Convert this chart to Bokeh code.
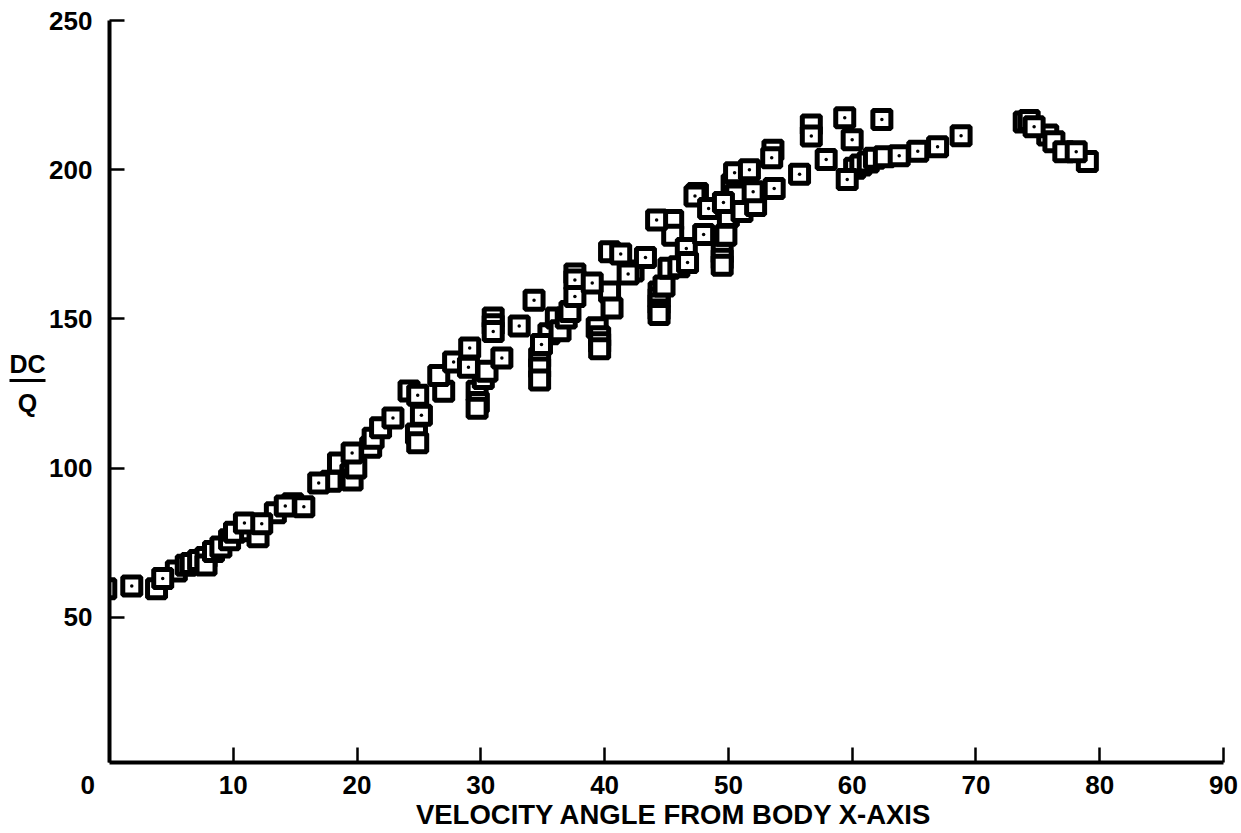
from bokeh.plotting import figure
from bokeh.layouts import row
from bokeh.models import Range1d, FixedTicker
from bokeh.core.properties import value
from bokeh.embed import file_html
from bokeh.resources import INLINE

# ---- data ----
# squares that lie underneath others (drawn first, no centre dot visible)
back_angle = [-0.3, 3.8, 5.4, 6.2, 6.6, 7.2, 7.8, 7.8, 8.4, 9.0, 9.7, 10.1, 11.4, 12.0,
              13.4, 14.8, 17.9, 18.5, 19.5, 19.6, 19.9, 21.1, 21.3, 21.9, 24.2, 24.8,
              24.9, 27.0, 26.6, 29.7, 29.8, 29.7, 30.2, 30.5, 31.0, 31.0, 34.75, 34.75,
              34.75, 35.5, 36.1, 36.4, 36.9, 37.2, 37.6, 39.4, 39.6, 39.6, 39.6, 40.4,
              40.6, 40.4, 42.3, 44.4, 44.4, 44.4, 44.4, 44.4, 44.8, 45.2, 46.0, 45.5,
              45.5, 47.5, 49.5, 49.5, 49.5, 49.8, 50.0, 50.3, 50.6, 51.1, 52.2, 53.6,
              56.7, 60.2, 60.7, 61.3, 61.8, 62.6, 73.9, 74.3, 75.8, 76.3, 77.1, 79.0]
back_dcq = [59.5, 59.5, 65.5, 67.4, 68.0, 69.0, 70.0, 67.5, 72.0, 73.5, 76.0, 78.5, 79.0, 77.0,
            85.0, 88.0, 95.6, 101.7, 98.0, 96.0, 100.0, 107.0, 110.0, 113.5, 125.8, 111.4,
            108.5, 125.7, 131.0, 125.7, 122.0, 120.0, 130.0, 132.4, 150.3, 148.0, 137.0, 133.5,
            129.5, 145.0, 150.3, 146.0, 150.3, 152.5, 165.0, 147.0, 144.0, 142.0, 140.0, 159.0,
            153.6, 172.5, 166.0, 159.0, 157.0, 155.0, 153.0, 151.5, 161.0, 167.0, 167.5, 183.0,
            178.0, 192.0, 172.0, 170.0, 168.0, 178.0, 184.3, 195.0, 191.5, 186.0, 188.0, 206.5,
            215.0, 200.5, 201.6, 202.6, 203.8, 204.3, 216.0, 216.5, 211.6, 209.4, 206.0, 202.7]

# squares on top (with visible centre dot)
front_angle = [1.8, 4.3, 10.9, 12.3, 14.2, 15.7, 16.9, 19.6, 22.9, 24.9, 25.2, 27.8, 29.0,
               29.1, 31.0, 31.7, 33.1, 34.3, 34.9, 37.6, 37.6, 39.0, 41.3, 41.9, 43.3, 44.2,
               46.6, 46.7, 48.0, 47.3, 48.4, 49.6, 52.0, 50.5, 51.7, 53.7, 53.5, 55.75, 56.7,
               59.4, 62.4, 60.0, 57.9, 59.6, 63.8, 65.3, 66.9, 68.8, 74.7, 78.1]
front_dcq = [60.5, 63.0, 81.6, 81.3, 87.3, 87.0, 95.0, 105.0, 116.8, 124.4, 117.7, 135.5, 133.8,
             140.2, 145.8, 136.9, 147.6, 156.2, 141.4, 163.0, 157.5, 162.0, 171.7, 165.0, 170.6, 183.1,
             173.6, 168.9, 178.3, 191.2, 187.0, 189.0, 192.6, 199.0, 200.0, 193.7, 204.0, 198.5, 211.3,
             217.4, 216.8, 210.0, 203.4, 196.7, 204.7, 206.2, 207.7, 211.4, 214.4, 206.0]

x_ticks = [0, 10, 20, 30, 40, 50, 60, 70, 80, 90]
y_ticks = [50, 100, 150, 200, 250]
x_title = "VELOCITY ANGLE FROM BODY X-AXIS"
y_numerator = "DC"
y_denominator = "Q"

FONT = "Liberation Sans"
NB = "\u00a0"
TOP, BOTTOM = 20, 762   # frame edges in page pixels (the row aligns both frames)

# ---- narrow strip holding the y-axis title written as a fraction ----
LW = 46
lab = figure(width=LW, height=833, output_backend="svg", toolbar_location=None,
             x_range=Range1d(0, LW), y_range=Range1d(BOTTOM, TOP),
             x_axis_type=None, y_axis_type=None,
             min_border_left=0, min_border_right=0, min_border_top=TOP,
             min_border_bottom=833 - BOTTOM)
lab.outline_line_color = None
lab.xgrid.visible = False
lab.ygrid.visible = False
lab.text(x=[27], y=[363], text=[y_numerator], text_font=value(FONT), text_font_style="bold",
         text_font_size="25px", text_align="center", text_baseline="middle", text_color="black")
lab.segment(x0=[9], y0=[380], x1=[45], y1=[380], line_width=3, line_color="black")
lab.text(x=[27], y=[402], text=[y_denominator], text_font=value(FONT), text_font_style="bold",
         text_font_size="25px", text_align="center", text_baseline="middle", text_color="black")

# ---- main chart ----
p = figure(width=1241 - LW, height=833, output_backend="svg", toolbar_location=None,
           x_range=Range1d(0, 90), y_range=Range1d(1.3, 250),
           min_border_left=107 - LW, min_border_right=18, min_border_top=TOP,
           min_border_bottom=833 - BOTTOM)
p.outline_line_color = None
p.xgrid.visible = False
p.ygrid.visible = False
p.background_fill_color = "white"
p.border_fill_color = "white"

for ax in (p.xaxis, p.yaxis):
    ax.axis_line_width = 4
    ax.axis_line_color = "black"
    ax.major_tick_in = 15
    ax.major_tick_out = 0
    ax.major_tick_line_width = 2.5
    ax.major_tick_line_color = "black"
    ax.minor_tick_line_color = None
    ax.major_label_text_font = FONT
    ax.major_label_text_font_style = "bold"
    ax.major_label_text_font_size = "26px"
    ax.major_label_text_color = "black"
    ax.axis_label_text_font = FONT
    ax.axis_label_text_font_style = "bold"
    ax.axis_label_text_color = "black"

p.xaxis.ticker = FixedTicker(ticks=x_ticks)
p.yaxis.ticker = FixedTicker(ticks=y_ticks)
p.xaxis.major_label_overrides = {0: "0" + NB * 6}
p.xaxis.major_label_standoff = 7
p.yaxis.major_label_standoff = 17

p.xaxis.axis_label = NB * 2 + x_title
p.xaxis.axis_label_text_font_size = "27.5px"
p.xaxis.axis_label_standoff = -4

p.scatter(back_angle, back_dcq, marker="square", size=18, fill_color="white",
          line_color="black", line_width=5)
p.scatter(front_angle, front_dcq, marker="square", size=18, fill_color="white",
          line_color="black", line_width=5)
p.scatter(front_angle, front_dcq, marker="circle", size=3.5, fill_color="black",
          line_color=None)

layout = row(lab, p, spacing=0)
open("out.html", "w").write(file_html(layout, INLINE))
